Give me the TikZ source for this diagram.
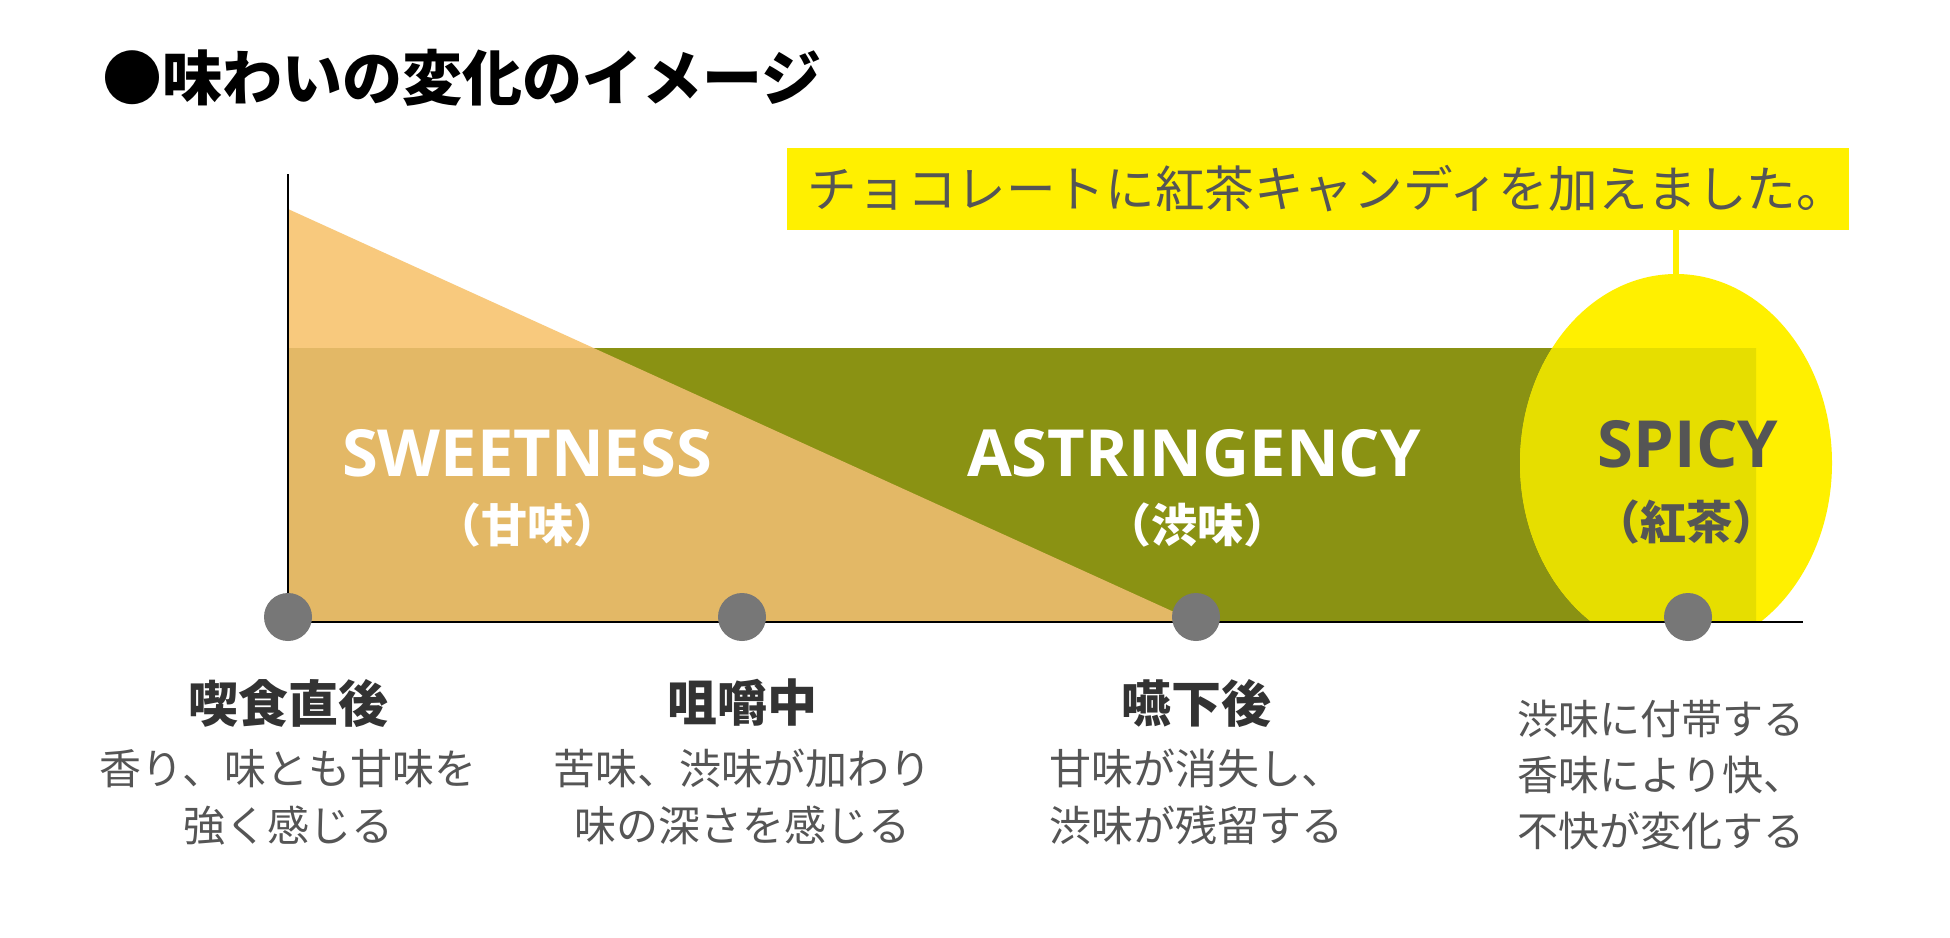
\documentclass[tikz,border=0pt]{standalone}
\usepackage{fontspec}
\setmainfont{Noto Sans CJK JP}
\newfontfamily\lat{Open Sans}
\usetikzlibrary{shapes.geometric}
\definecolor{lightor}{HTML}{F8C97D}
\definecolor{darkor}{HTML}{E3B866}
\definecolor{olivebar}{HTML}{8A9213}
\definecolor{yel}{HTML}{FFF000}
\definecolor{yeldark}{HTML}{E6DE00}
\definecolor{dotgray}{HTML}{777777}
\definecolor{txtgray}{HTML}{555555}
\definecolor{headgray}{HTML}{333333}
\tikzset{
  axisline/.style={draw=black, line width=2pt},
  dotnode/.style={circle, fill=dotgray, minimum size=48pt, inner sep=0pt},
  headtext/.style={font=\bfseries\fontsize{50}{60}\selectfont, text=headgray, inner sep=0pt},
  desctext/.style={font=\fontsize{42}{57}\selectfont, text=txtgray, align=center, inner sep=0pt},
  biglabel/.style={font=\lat\bfseries\fontsize{65}{70}\selectfont, inner sep=0pt},
  sublabel/.style={font=\bfseries\fontsize{46}{50}\selectfont, inner sep=0pt},
  spot/.style={ellipse, fill=yel, minimum width=312pt, minimum height=378pt, inner sep=0pt},
  calloutbox/.style={fill=yel, minimum width=1062pt, minimum height=82pt, inner sep=0pt,
     text=txtgray, font=\fontsize{49.6}{50}\selectfont},
  conn/.style={draw=yel, line width=6pt}
}
\begin{document}
\begin{tikzpicture}[x=1pt,y=-1pt]
\useasboundingbox (0,0) rectangle (1950,937);
\fill[white] (0,0) rectangle (1950,937);

% sweetness triangle (above band)
\fill[lightor] (288,209) -- (1196,622) -- (288,622) -- cycle;
% astringency band
\fill[olivebar] (288,348) rectangle (1756,622);
\begin{scope}
  \clip (288,348) rectangle (1756,622);
  \fill[darkor] (288,209) -- (1196,622) -- (288,622) -- cycle;
\end{scope}
% spicy ellipse
\begin{scope}
  \clip (0,0) rectangle (1950,622);
  \node[spot] (spicy) at (1676,463) {};
  \clip (288,348) rectangle (1756,622);
  \fill[yeldark] (1676,463) ellipse [x radius=156pt, y radius=189pt];
\end{scope}

% axes
\draw[axisline] (288,174) -- (288,622) -- (1803,622);

% callout
\node[calloutbox] (call) at (1318,189) {\hspace*{18pt}チョコレートに紅茶キャンディを加えました。};
\draw[conn] (call.south -| spicy.north) -- (spicy.north);

% dots
\node[dotnode] (d1) at (288,617) {};
\node[dotnode] (d2) at (742,617) {};
\node[dotnode] (d3) at (1196,617) {};
\node[dotnode] (d4) at (1688,617) {};

% title
\node[anchor=west, inner sep=0pt, font=\bfseries\fontsize{60}{70}\selectfont] (title) at (102,78) {●味わいの変化のイメージ};

% labels
\node[biglabel, text=white] (sw) at (527,453) {SWEETNESS};
\node[sublabel, text=white] (swj) at (527,525) {（甘味）};
\node[biglabel, text=white] (as) at (1194,453) {ASTRINGENCY};
\node[sublabel, text=white] (asj) at (1197,525) {（渋味）};
\node[biglabel, text=txtgray] (sp) at (1688,444) {SPICY};
\node[sublabel, text=txtgray] (spj) at (1686,522) {（紅茶）};

% bottom texts
\node[headtext] (h1) at (288,703) {喫食直後};
\node[desctext] (t1) at (288,797) {香り、味とも甘味を\\強く感じる};
\node[headtext] (h2) at (742,703) {咀嚼中};
\node[desctext] (t2) at (742,797) {苦味、渋味が加わり\\味の深さを感じる};
\node[headtext] (h3) at (1196,703) {嚥下後};
\node[desctext] (t3) at (1196,797) {甘味が消失し、\\渋味が残留する};
\node[desctext, font=\fontsize{41}{56}\selectfont] (t4) at (1661,775) {渋味に付帯する\\香味により快、\\不快が変化する};
\end{tikzpicture}
\end{document}
